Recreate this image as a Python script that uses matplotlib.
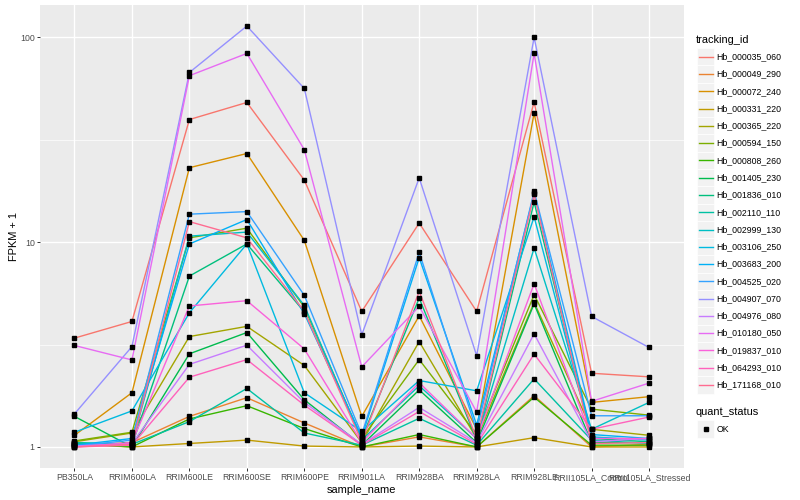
import matplotlib.pyplot as plt
from matplotlib.lines import Line2D
from matplotlib.patches import Rectangle
from matplotlib.ticker import NullFormatter
import numpy as np

plt.rcParams['font.family'] = ['Liberation Sans', 'DejaVu Sans']

samples = ["PB350LA", "RRIM600LA", "RRIM600LE", "RRIM600SE", "RRIM600PE",
           "RRIM901LA", "RRIM928BA", "RRIM928LA", "RRIM928LE",
           "RRII105LA_Control", "RRII105LA_Stressed"]

tracking_ids = ["Hb_000035_060", "Hb_000049_290", "Hb_000072_240", "Hb_000331_220",
                "Hb_000365_220", "Hb_000594_150", "Hb_000808_260", "Hb_001405_230",
                "Hb_001836_010", "Hb_002110_110", "Hb_002999_130", "Hb_003106_250",
                "Hb_003683_200", "Hb_004525_020", "Hb_004907_070", "Hb_004976_080",
                "Hb_010180_050", "Hb_019837_010", "Hb_064293_010", "Hb_171168_010"]

# ggplot hue palette, 20 levels
colors = ["#F8766D", "#EA8331", "#D89000", "#C09B00", "#A3A500", "#7CAE00",
          "#39B600", "#00BB4E", "#00BF7D", "#00C1A3", "#00BFC4", "#00BAE0",
          "#00B0F6", "#35A2FF", "#9590FF", "#C77CFF", "#E76BF3", "#FA62DB",
          "#FF62BC", "#FF6C91"]

# FPKM + 1, one row per tracking_id, one column per sample
fpkm_plus1 = [
    [3.40, 4.10, 39.7, 48.1, 20.1, 4.59, 12.4, 4.59, 48.3, 2.29, 2.20],
    [1.02, 1.05, 1.41, 1.74, 1.31, 1.00, 1.12, 1.00, 1.78, 1.00, 1.03],
    [1.14, 1.84, 23.1, 27.1, 10.2, 1.41, 4.37, 1.22, 42.7, 1.65, 1.76],
    [1.03, 1.00, 1.04, 1.08, 1.01, 1.00, 1.01, 1.00, 1.11, 1.00, 1.00],
    [1.06, 1.17, 3.46, 3.88, 2.50, 1.05, 3.27, 1.10, 5.08, 1.22, 1.14],
    [1.07, 1.18, 10.5, 11.7, 4.82, 1.10, 2.67, 1.15, 5.54, 1.53, 1.43],
    [1.04, 1.00, 1.37, 1.59, 1.23, 1.00, 1.15, 1.00, 1.75, 1.02, 1.02],
    [1.41, 1.00, 2.85, 3.62, 1.70, 1.02, 1.90, 1.05, 5.00, 1.05, 1.05],
    [1.05, 1.02, 6.83, 9.80, 4.57, 1.10, 5.33, 1.08, 15.7, 1.10, 1.06],
    [1.05, 1.03, 1.33, 1.93, 1.17, 1.02, 1.38, 1.02, 2.15, 1.08, 1.04],
    [1.03, 1.04, 10.7, 11.2, 4.91, 1.08, 1.99, 1.10, 9.36, 1.22, 1.65],
    [1.18, 1.50, 4.52, 9.80, 1.84, 1.19, 2.11, 1.88, 13.3, 1.12, 1.08],
    [1.02, 1.10, 9.80, 12.9, 4.48, 1.12, 8.40, 1.28, 17.3, 1.15, 1.10],
    [1.01, 1.08, 13.7, 14.1, 5.50, 1.15, 8.92, 1.20, 17.7, 1.42, 1.42],
    [1.45, 3.09, 67.4, 113.6, 56.3, 3.53, 20.6, 2.79, 100.0, 4.34, 3.06],
    [1.01, 1.04, 2.53, 3.14, 1.65, 1.03, 1.56, 1.05, 3.57, 1.06, 1.10],
    [3.13, 2.66, 65.0, 83.5, 28.3, 2.46, 4.86, 1.48, 83.5, 1.67, 2.05],
    [1.00, 1.05, 4.88, 5.18, 3.01, 1.05, 2.06, 1.10, 6.27, 1.10, 1.10],
    [1.00, 1.02, 2.19, 2.67, 1.60, 1.02, 1.49, 1.03, 2.84, 1.22, 1.40],
    [1.00, 1.03, 12.6, 10.5, 4.60, 1.06, 5.75, 1.10, 17.1, 1.04, 1.05],
]

W, H = 800, 500
fig = plt.figure(figsize=(W / 100, H / 100), dpi=100)
ax = fig.add_axes([40 / W, 1 - 468 / H, 643.5 / W, 463 / H])
ax.set_facecolor("#EBEBEB")
for s in ax.spines.values():
    s.set_visible(False)

x = np.arange(len(samples))
vals = np.array(fpkm_plus1)
for row, c in zip(vals, colors):
    ax.plot(x, row, color=c, lw=1.0, zorder=2)
for row in vals:
    ax.plot(x, row, ls="none", marker="s", ms=2.8, color="black", zorder=3)

ax.set_yscale("log")
lo, hi = np.log10(vals.min()), np.log10(vals.max())
pad = (hi - lo) * 0.05
ax.set_ylim(10 ** (lo - pad), 10 ** (hi + pad))
ax.set_xlim(-0.6, len(samples) - 0.4)

ax.set_yticks([1, 10, 100])
ax.set_yticklabels(["1", "10", "100"])
ax.set_yticks([10 ** 0.5, 10 ** 1.5], minor=True)
ax.yaxis.set_minor_formatter(NullFormatter())
ax.set_xticks(x)
ax.set_xticklabels(samples)

ax.grid(True, which="major", color="white", lw=1.0, zorder=0)
ax.grid(True, which="minor", axis="y", color="white", lw=0.5, zorder=0)
ax.set_axisbelow(True)
ax.tick_params(which="major", length=2.0, width=0.7, color="#333333",
               labelsize=6.3, labelcolor="#4D4D4D", pad=1.8)
ax.tick_params(which="minor", length=0)

ax.set_xlabel("sample_name", fontsize=7.9, labelpad=2)
ax.set_ylabel("FPKM + 1", fontsize=7.9, labelpad=1)


def fx(px):
    return px / W


def fy(py):
    return 1 - py / H


# legend: tracking_id
fig.text(fx(696), fy(40), "tracking_id", fontsize=7.9, va="center", ha="left")
step = 17.28
for i, (tid, c) in enumerate(zip(tracking_ids, colors)):
    cy = 56.7 + i * step
    fig.add_artist(Rectangle((fx(697), fy(cy + step / 2)), step / W, step / H,
                             transform=fig.transFigure, facecolor="#F2F2F2",
                             edgecolor="white", lw=0.5))
    fig.add_artist(Line2D([fx(698.5), fx(712.5)], [fy(cy), fy(cy)],
                          transform=fig.transFigure, color=c, lw=1.0))
    fig.text(fx(716.5), fy(cy), tid, fontsize=6.3, va="center", ha="left")

# legend: quant_status
fig.text(fx(696), fy(412), "quant_status", fontsize=7.9, va="center", ha="left")
cy = 429
fig.add_artist(Rectangle((fx(697), fy(cy + step / 2)), step / W, step / H,
                         transform=fig.transFigure, facecolor="#F2F2F2",
                         edgecolor="white", lw=0.5))
fig.add_artist(Line2D([fx(705.5)], [fy(cy)], transform=fig.transFigure,
                      ls="none", marker="s", ms=2.8, color="black"))
fig.text(fx(716.5), fy(cy), "OK", fontsize=6.3, va="center", ha="left")

fig.savefig("out.png", dpi=100)
